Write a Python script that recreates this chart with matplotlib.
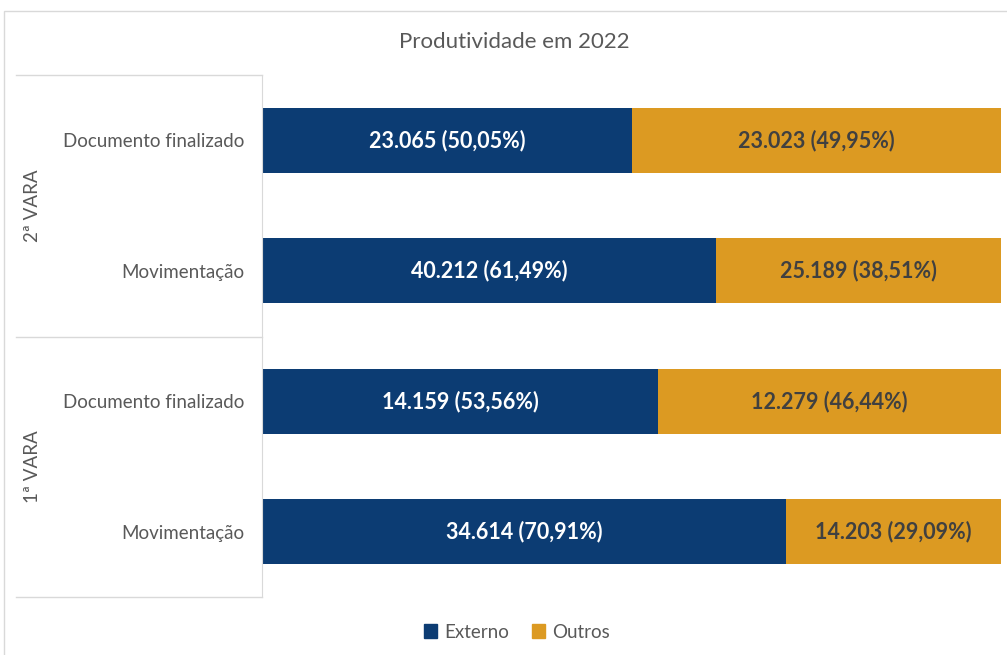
import matplotlib
matplotlib.use("Agg")
import matplotlib.pyplot as plt
from matplotlib.patches import Patch
from matplotlib.lines import Line2D
from matplotlib.patches import Rectangle

# ---------------- data ----------------
grupos = ["2ª VARA", "1ª VARA"]
categorias = ["Documento finalizado", "Movimentação", "Documento finalizado", "Movimentação"]
externo = [23065, 40212, 14159, 34614]
outros = [23023, 25189, 12279, 14203]
series = ["Externo", "Outros"]

AZUL = "#0C3C73"
LARANJA = "#DC9A22"
CINZA = "#595959"
FONTE = "Lato"

W, H = 1007, 655
fig = plt.figure(figsize=(W / 100, H / 100), dpi=100)
ax = fig.add_axes([262 / W, 1 - 597 / H, (1001 - 262) / W, (597 - 75) / H])

def fmt_num(v):
    return f"{v:,}".replace(",", ".")

def fmt_pct(p):
    return f"{p:.2f}".replace(".", ",") + "%"

ys = list(range(len(categorias)))[::-1]
for y, e, o in zip(ys, externo, outros):
    tot = e + o
    pe, po = 100 * e / tot, 100 * o / tot
    ax.barh(y, pe, height=0.5, color=AZUL, left=0)
    ax.barh(y, po, height=0.5, color=LARANJA, left=pe)
    ax.text(pe / 2, y, f"{fmt_num(e)} ({fmt_pct(pe)})", ha="center", va="center",
            color="white", fontsize=15.5, fontweight="bold", family=FONTE)
    ax.text(pe + po / 2, y, f"{fmt_num(o)} ({fmt_pct(po)})", ha="center", va="center",
            color="#404040", fontsize=15.5, fontweight="bold", family=FONTE)

ax.set_xlim(0, 100)
ax.set_ylim(-0.5, len(categorias) - 0.5)
ax.set_yticks(ys)
ax.set_yticklabels(categorias, fontsize=13.5, color=CINZA, family=FONTE)
ax.tick_params(axis="y", length=0, pad=13)
ax.set_xticks([])
for s in ["top", "right", "bottom"]:
    ax.spines[s].set_visible(False)
ax.spines["left"].set_color("#D9D9D9")

# group box lines
linha = "#D9D9D9"
for yp in [75, 337, 597]:
    fig.add_artist(Line2D([16 / W, 262 / W], [1 - yp / H, 1 - yp / H], color=linha, lw=1))
for g, yc in zip(grupos, [206, 467]):
    fig.text(32 / W, 1 - yc / H, g, rotation=90, ha="center", va="center",
             fontsize=13.5, color=CINZA, family=FONTE)

# chart border
fig.add_artist(Rectangle((4 / W, -0.01), 1.02, 1 - 11 / H + 0.01, fill=False,
                         edgecolor=linha, lw=1, transform=fig.transFigure))

fig.text(514 / W, 1 - 42 / H, "Produtividade em 2022", ha="center", va="center",
         fontsize=16, color=CINZA, family=FONTE)

handles = [Patch(color=AZUL), Patch(color=LARANJA)]
fig.legend(handles, series, loc="center", bbox_to_anchor=(517 / W, 1 - 632 / H), ncol=2,
           frameon=False, handlelength=0.7, handleheight=0.7, handletextpad=0.4,
           columnspacing=1.2, prop={"family": FONTE, "size": 13.5}, labelcolor=CINZA)

fig.savefig("out.png", dpi=100)
